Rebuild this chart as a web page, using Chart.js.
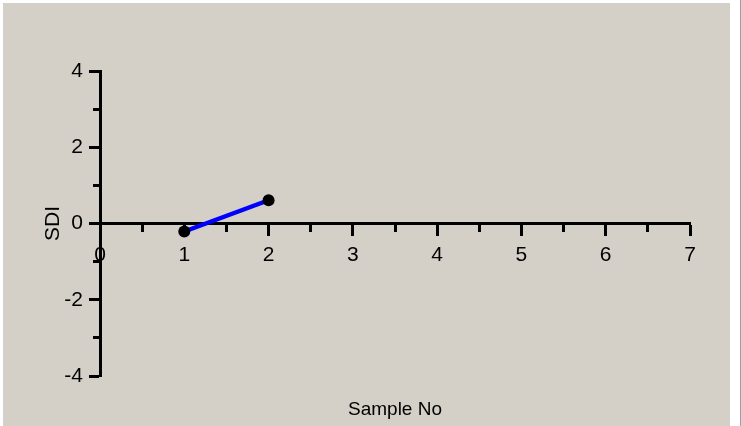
<!DOCTYPE html>
<html><head><meta charset="utf-8">
<script src="https://cdn.jsdelivr.net/npm/chart.js@4.4.1/dist/chart.umd.min.js"></script>
<style>
html,body{margin:0;padding:0;background:#fff;width:741px;height:426px;overflow:hidden}
#bg{position:absolute;left:3px;top:3px;width:727px;height:423px;background:#D4D0C8}
#edge{position:absolute;left:740px;top:0;width:1px;height:426px;background:#a0a0a0}
#wrap{position:absolute;left:0;top:0;width:741px;height:426px}
</style></head><body>
<div id="bg"></div><div id="edge"></div>
<div id="wrap"><canvas id="c"></canvas></div>
<script>
const sampleNo = [1, 2];
const sdiValues = [-0.21, 0.61];
const xRange = [0, 7];
const yRange = [-4, 4];
const xTitle = 'Sample No';
const yTitle = 'SDI';

const FONT = '"Liberation Sans", Arial, sans-serif';
const points = sampleNo.map((x, i) => ({x: x, y: sdiValues[i]}));
const isMinorY = c => c.tick && Math.abs(c.tick.value % 2) === 1;
const isMinorX = c => c.tick && !Number.isInteger(c.tick.value);

new Chart(document.getElementById('c'), {
  type: 'scatter',
  data: { datasets: [{
    data: points, showLine: true,
    borderColor: '#0000FF', borderWidth: 4.5,
    pointRadius: 6, pointHoverRadius: 6,
    pointBackgroundColor: '#000', pointBorderColor: '#000', pointBorderWidth: 0
  }]},
  options: {
    responsive: true, maintainAspectRatio: false, animation: false, events: [],
    layout: { padding: { top: 71, right: 51, bottom: 0, left: 0 } },
    plugins: {
      legend: { display: false }, tooltip: { enabled: false },
      title: { display: true, text: xTitle, position: 'bottom', fullSize: false, color: '#000',
        font: { family: FONT, size: 19, weight: 'normal' }, padding: { top: 22.6, bottom: 4.6 } }
    },
    scales: {
      x: {
        type: 'linear', position: { y: 0 }, min: xRange[0], max: xRange[1],
        afterFit: s => { s.height = 0; },
        ticks: { stepSize: 0.5, autoSkip: false, maxRotation: 0, padding: 8, color: '#000',
          font: { family: FONT, size: 21 },
          callback: v => Number.isInteger(v) ? String(v) : '' },
        grid: { drawOnChartArea: false, tickLength: 11, tickWidth: 3, tickColor: '#000',
          tickBorderDash: c => isMinorX(c) ? [7, 20] : [], tickBorderDashOffset: 0 },
        border: { color: '#000', width: 3 }
      },
      y: {
        type: 'linear', position: 'left', min: yRange[0], max: yRange[1],
        afterFit: s => { s.width = 100; },
        title: { display: true, text: yTitle, color: '#000',
          font: { family: FONT, size: 21 }, padding: { top: 41, bottom: 0 } },
        ticks: { stepSize: 1, autoSkip: false, padding: 6, color: '#000',
          font: { family: FONT, size: 21 },
          callback: v => (v % 2 === 0) ? String(v) : '' },
        grid: { drawOnChartArea: false, tickLength: 11, tickWidth: 3, tickColor: '#000',
          tickBorderDash: c => isMinorY(c) ? [7, 20] : [],
          tickBorderDashOffset: c => isMinorY(c) ? 23 : 0 },
        border: { color: '#000', width: 3 }
      }
    }
  }
});
</script>
</body></html>
